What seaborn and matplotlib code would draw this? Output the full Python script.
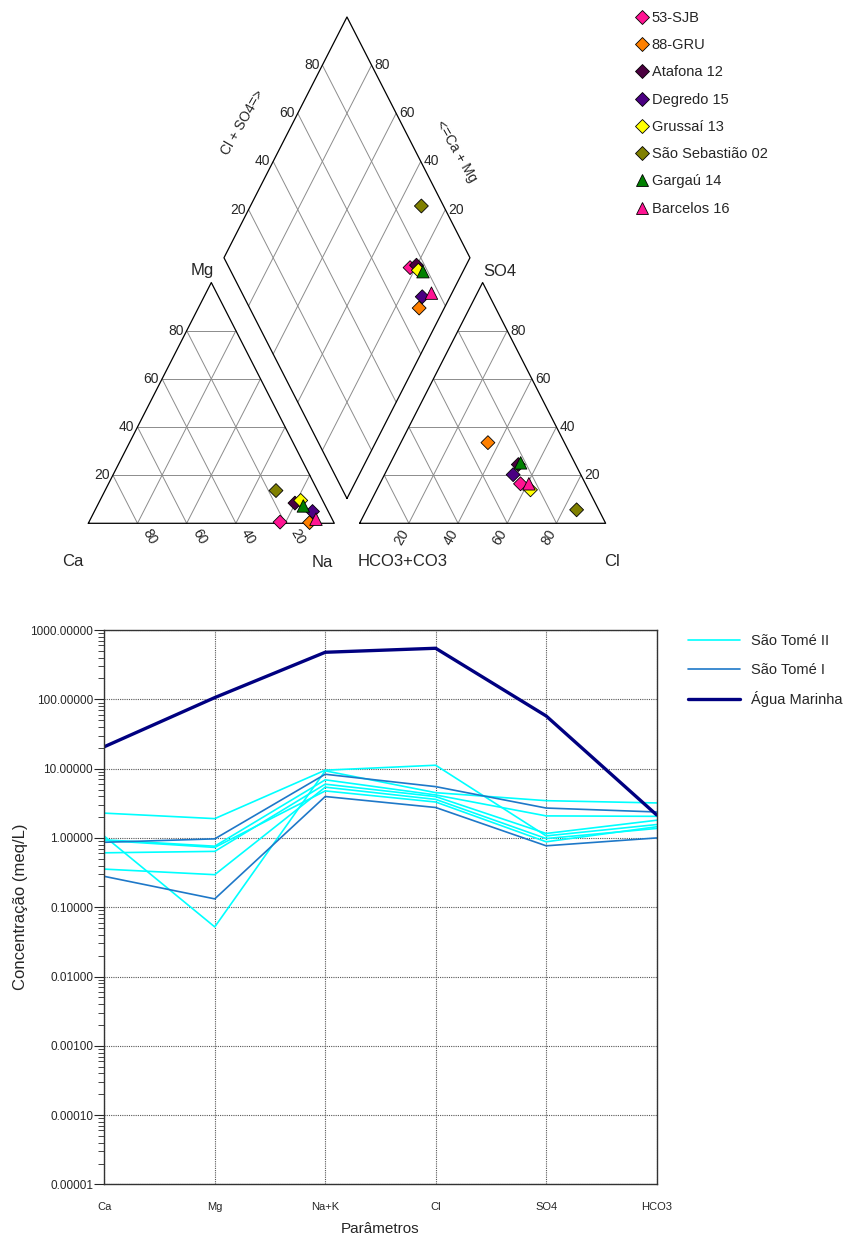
import numpy as np
import pandas as pd
import seaborn as sns
import matplotlib.pyplot as plt
from matplotlib.lines import Line2D
from matplotlib.ticker import LogLocator, FixedLocator, NullFormatter

sns.set_style('white')
plt.rcParams['font.family'] = ['Liberation Sans', 'DejaVu Sans']

# --- Piper: percentagens (meq%) por amostra ---
amostras = ['53-SJB', '88-GRU', 'Atafona 12', 'Degredo 15', 'Grussaí 13',
            'São Sebastião 02', 'Gargaú 14', 'Barcelos 16']
ca_pct = [21.8, 9.9, 11.8, 6.4, 8.9, 16.9, 9.0, 6.6]
mg_pct = [0.5, 0.3, 8.4, 4.9, 9.5, 13.6, 7.2, 1.7]
na_pct = [77.7, 89.8, 79.8, 88.7, 81.6, 69.5, 83.8, 91.7]
hco3_pct = [26.4, 31.1, 23.3, 27.5, 23.6, 9.0, 22.0, 23.0]
so4_pct = [16.4, 33.5, 24.4, 20.2, 13.9, 5.6, 25.1, 16.4]
cl_pct = [57.2, 35.4, 52.3, 52.3, 62.5, 85.4, 52.9, 60.6]
cores_amostras = ['#FF1493', '#FF8000', '#4B0040', '#4B0082', '#FFFF00',
                  '#808000', '#008000', '#FF1493']
marcadores = ['D', 'D', 'D', 'D', 'D', 'D', '^', '^']

# --- Schoeller: concentrações (meq/L) ---
parametros = ['Ca', 'Mg', 'Na+K', 'Cl', 'SO4', 'HCO3']
sao_tome_ii = [
    [2.28, 1.90, 9.5, 11.2, 1.07, 1.56],
    [1.06, 0.052, 9.3, 4.5, 3.45, 3.2],
    [0.94, 0.76, 6.9, 4.17, 2.08, 2.05],
    [0.61, 0.64, 5.97, 3.95, 1.16, 1.8],
    [0.355, 0.295, 5.4, 3.6, 0.98, 1.37],
    [0.92, 0.73, 4.77, 3.3, 0.88, 1.45],
]
sao_tome_i = [
    [0.865, 0.97, 8.3, 5.5, 2.7, 2.37],
    [0.279, 0.132, 3.96, 2.75, 0.77, 1.0],
]
agua_marinha = [[20.7, 106.0, 478.0, 546.0, 57.6, 2.15]]
grupos = ['São Tomé II', 'São Tomé I', 'Água Marinha']
cores_grupos = ['#00FFFF', '#1E78C8', '#000080']
larguras = [1.2, 1.2, 2.4]

# geometria do diagrama de Piper
h = np.sqrt(3) / 2
g = 0.103


def cation_xy(mg, na):
    return na / 100 + 0.5 * mg / 100, h * mg / 100


def anion_xy(so4, cl):
    return 1 + g + cl / 100 + 0.5 * so4 / 100, h * so4 / 100


def losango_xy(xc, yc, xa, ya):
    s = (xa - xc) + (ya - yc) / (2 * h)
    return xc + 0.5 * s, yc + h * s


df = pd.DataFrame({'amostra': amostras, 'ca': ca_pct, 'mg': mg_pct, 'na': na_pct,
                   'hco3': hco3_pct, 'so4': so4_pct, 'cl': cl_pct})
df['xc'], df['yc'] = cation_xy(df['mg'], df['na'])
df['xa'], df['ya'] = anion_xy(df['so4'], df['cl'])
df['xd'], df['yd'] = losango_xy(df['xc'], df['yc'], df['xa'], df['ya'])
pontos = pd.concat([
    df[['amostra', 'xc', 'yc']].set_axis(['amostra', 'x', 'y'], axis=1),
    df[['amostra', 'xa', 'ya']].set_axis(['amostra', 'x', 'y'], axis=1),
    df[['amostra', 'xd', 'yd']].set_axis(['amostra', 'x', 'y'], axis=1),
])

fig = plt.figure(figsize=(8.59, 12.41), dpi=100)

# ---------------- Piper ----------------
ax1 = fig.add_axes([0, 0.52458, 1, 0.47542])
ax1.set_xlim(-88.3 / 246, (859 - 88.3) / 246)
ax1.set_ylim((523.3 - 590) / 278, 523.3 / 278)
ax1.axis('off')

cinza = dict(color='#8c8c8c', lw=0.7, zorder=1)
preto = dict(color='black', lw=0.9, zorder=2)
fr = [0.2, 0.4, 0.6, 0.8]

for x0 in [0, 1 + g]:
    ax1.plot([x0, x0 + 1, x0 + 0.5, x0], [0, 0, h, 0], **preto)
    for f in fr:
        ax1.plot([x0 + 0.5 * f, x0 + 1 - 0.5 * f], [h * f, h * f], **cinza)
        ax1.plot([x0 + f, x0 + f + 0.5 * (1 - f)], [0, h * (1 - f)], **cinza)
        ax1.plot([x0 + f, x0 + 0.5 * f], [0, h * f], **cinza)

B = np.array([1 + g / 2, g * h])
R = np.array([1.5 + g / 2, h + g * h])
T = np.array([1 + g / 2, 2 * h + g * h])
L = np.array([0.5 + g / 2, h + g * h])
ax1.plot([B[0], R[0], T[0], L[0], B[0]], [B[1], R[1], T[1], L[1], B[1]], **preto)
for f in fr:
    p = B + f * (R - B)
    q = p + (L - B)
    ax1.plot([p[0], q[0]], [p[1], q[1]], **cinza)
    p = B + f * (L - B)
    q = p + (R - B)
    ax1.plot([p[0], q[0]], [p[1], q[1]], **cinza)

fs = 10
for f in fr:
    v = f'{round(f * 100)}'
    inv = f'{round((1 - f) * 100)}'
    # triângulo catiões
    ax1.text(0.5 * f - 0.012, h * f, v, ha='right', va='center', fontsize=fs)
    ax1.text(f + 0.035, -0.025, inv, rotation=-60,
             rotation_mode='anchor', ha='left', va='center', fontsize=fs)
    # triângulo aniões
    ax1.text(2 + g - 0.5 * f + 0.012, h * f, v, ha='left', va='center', fontsize=fs)
    ax1.text(1 + g + f - 0.014, -0.025, v, rotation=60,
             rotation_mode='anchor', ha='right', va='center', fontsize=fs)
    # losango
    pl = L + f * (T - L)
    ax1.text(pl[0] - 0.012, pl[1], v, ha='right', va='center', fontsize=fs)
    pr = R + f * (T - R)
    ax1.text(pr[0] + 0.012, pr[1], v, ha='left', va='center', fontsize=fs)

fc = 12
ax1.text(0.462, 0.911, 'Mg', ha='center', va='center', fontsize=fc)
ax1.text(-0.062, -0.1385, 'Ca', ha='center', va='center', fontsize=fc)
ax1.text(0.950, -0.1428, 'Na', ha='center', va='center', fontsize=fc)
ax1.text(1.673, 0.9075, 'SO4', ha='center', va='center', fontsize=fc)
ax1.text(1.279, -0.1385, 'HCO3+CO3', ha='center', va='center', fontsize=fc)
ax1.text(2.129, -0.1385, 'Cl', ha='center', va='center', fontsize=fc)
ax1.text(0.628, 1.440, 'Cl + SO4=>', rotation=60, ha='center', va='center', fontsize=fs)
ax1.text(1.4976, 1.3367, '<=Ca + Mg', rotation=-60, ha='center', va='center', fontsize=fs)

paleta = dict(zip(amostras, cores_amostras))
estilos = dict(zip(amostras, marcadores))
tamanhos = {a: (80 if m == '^' else 50) for a, m in zip(amostras, marcadores)}
sns.scatterplot(data=pontos, x='x', y='y', hue='amostra', style='amostra',
                size='amostra', palette=paleta, markers=estilos, sizes=tamanhos,
                edgecolor='black', linewidth=0.6, legend=False, zorder=3, ax=ax1)

handles = [Line2D([0], [0], marker=m, ls='none', markerfacecolor=c, markeredgecolor='black',
                  markeredgewidth=0.6, markersize=(9 if m == '^' else 7))
           for c, m in zip(cores_amostras, marcadores)]
ax1.legend(handles, amostras, loc='upper left', bbox_to_anchor=(0.7318, 0.996),
           bbox_transform=fig.transFigure, frameon=False, fontsize=10.5,
           handlelength=1.0, handletextpad=0.18, labelspacing=0.91, borderaxespad=0)

# ---------------- Schoeller ----------------
ax2 = fig.add_axes([0.1214, 0.0456, 0.643, 0.4467])
linhas = []
for grupo, series in zip(grupos, [sao_tome_ii, sao_tome_i, agua_marinha]):
    for k, valores in enumerate(series):
        for i, v in enumerate(valores):
            linhas.append({'grupo': grupo, 'amostra': f'{grupo} {k}', 'pos': i, 'valor': v})
dados = pd.DataFrame(linhas)

for grupo, cor, lw in zip(grupos, cores_grupos, larguras):
    sns.lineplot(data=dados[dados['grupo'] == grupo], x='pos', y='valor', units='amostra',
                 estimator=None, color=cor, lw=lw, sort=False, ax=ax2)

ax2.set_yscale('log')
ax2.set_ylim(1e-5, 1e3)
ax2.set_xlim(0, len(parametros) - 1)
ticks_y = 10.0 ** np.arange(-5, 4)
ax2.yaxis.set_major_locator(FixedLocator(ticks_y))
ax2.set_yticklabels([f'{v:.5f}' for v in ticks_y], fontsize=8.5)
ax2.yaxis.set_minor_locator(LogLocator(base=10, subs=np.arange(2, 10)))
ax2.yaxis.set_minor_formatter(NullFormatter())
ax2.set_xticks(range(len(parametros)))
ax2.set_xticklabels(parametros, fontsize=8)
ax2.tick_params(axis='y', which='major', left=True, length=7, width=0.8, direction='out', pad=1)
ax2.tick_params(axis='y', which='minor', left=True, length=4, width=0.6, direction='out')
ax2.tick_params(axis='x', bottom=False, length=0, pad=13)
ax2.grid(which='major', ls=(0, (1, 1)), color='#555555', lw=0.8)
for s in ax2.spines.values():
    s.set_color('#333333')
    s.set_linewidth(1.0)
ax2.set_xlabel('Parâmetros', fontsize=11, labelpad=7)
ax2.set_ylabel('Concentração (meq/L)', fontsize=12, labelpad=2)

h_leg = [Line2D([0], [0], color=c, lw=lw) for c, lw in zip(cores_grupos, larguras)]
ax2.legend(h_leg, grupos, loc='upper left', bbox_to_anchor=(0.794, 0.4938),
           bbox_transform=fig.transFigure, frameon=False, fontsize=10.5,
           handlelength=3.6, handletextpad=0.7, labelspacing=1.0, borderaxespad=0)

fig.savefig('out.png', dpi=100)
